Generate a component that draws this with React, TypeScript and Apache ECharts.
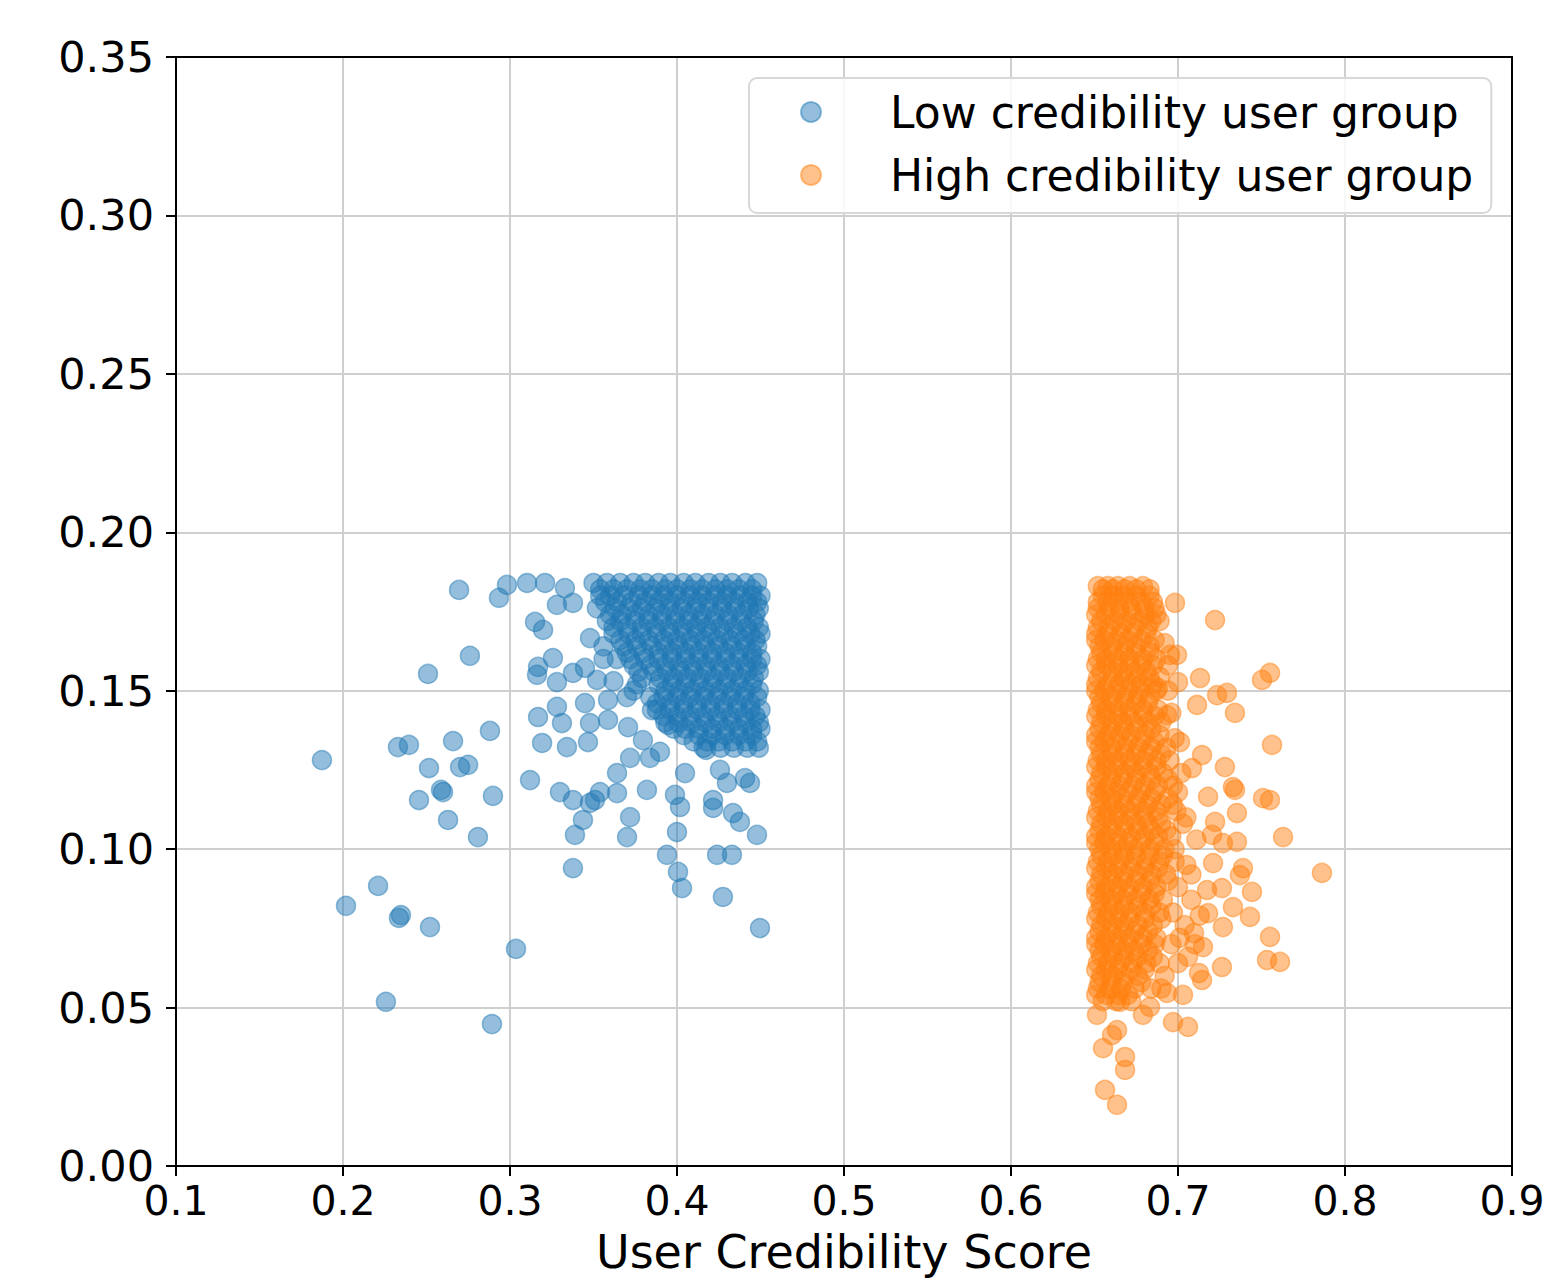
import React, { useEffect, useRef } from "react";
import * as echarts from "echarts";

const xTicks = [0.1, 0.2, 0.3, 0.4, 0.5, 0.6, 0.7, 0.8, 0.9];
const yTicks = [0, 0.05, 0.1, 0.15, 0.2, 0.25, 0.3, 0.35];
const seriesNames = ["Low credibility user group", "High credibility user group"];
const xAxisName = "User Credibility Score";

// Low credibility group: dense block, rows of [y, xs]
const blueCoreRows: Array<[number, number[]]> = [
  [0.184, [0.350, 0.358, 0.366, 0.374, 0.381, 0.389, 0.396, 0.404, 0.411, 0.419, 0.426, 0.433, 0.441, 0.448]],
  [0.182, [0.354, 0.362, 0.370, 0.378, 0.385, 0.393, 0.400, 0.408, 0.415, 0.423, 0.430, 0.437, 0.445]],
  [0.180, [0.354, 0.360, 0.368, 0.377, 0.385, 0.392, 0.400, 0.408, 0.415, 0.423, 0.430, 0.438, 0.445, 0.450]],
  [0.178, [0.357, 0.364, 0.373, 0.381, 0.389, 0.396, 0.404, 0.412, 0.419, 0.427, 0.434, 0.442, 0.448]],
  [0.176, [0.352, 0.363, 0.371, 0.379, 0.387, 0.395, 0.403, 0.411, 0.419, 0.427, 0.435, 0.443, 0.449]],
  [0.174, [0.360, 0.367, 0.375, 0.383, 0.391, 0.399, 0.407, 0.415, 0.423, 0.431, 0.439, 0.447]],
  [0.172, [0.358, 0.366, 0.375, 0.383, 0.391, 0.399, 0.407, 0.414, 0.422, 0.430, 0.438, 0.446]],
  [0.170, [0.362, 0.370, 0.379, 0.387, 0.395, 0.403, 0.411, 0.418, 0.426, 0.434, 0.442, 0.449]],
  [0.168, [0.362, 0.371, 0.379, 0.388, 0.396, 0.404, 0.412, 0.420, 0.428, 0.436, 0.444, 0.450]],
  [0.166, [0.366, 0.375, 0.383, 0.392, 0.400, 0.408, 0.416, 0.424, 0.432, 0.440, 0.447]],
  [0.164, [0.356, 0.368, 0.376, 0.385, 0.393, 0.401, 0.409, 0.417, 0.425, 0.433, 0.441, 0.448]],
  [0.162, [0.370, 0.380, 0.389, 0.397, 0.405, 0.413, 0.421, 0.429, 0.437, 0.445]],
  [0.160, [0.364, 0.372, 0.381, 0.389, 0.397, 0.405, 0.413, 0.421, 0.429, 0.437, 0.445, 0.450]],
  [0.158, [0.374, 0.384, 0.393, 0.401, 0.409, 0.417, 0.425, 0.433, 0.441, 0.448]],
  [0.156, [0.377, 0.386, 0.394, 0.402, 0.410, 0.418, 0.426, 0.434, 0.442, 0.449]],
  [0.154, [0.379, 0.390, 0.398, 0.406, 0.414, 0.422, 0.430, 0.438, 0.446]],
  [0.152, [0.376, 0.389, 0.397, 0.405, 0.413, 0.421, 0.429, 0.437, 0.445]],
  [0.150, [0.374, 0.393, 0.401, 0.409, 0.417, 0.425, 0.433, 0.441, 0.449]],
  [0.148, [0.384, 0.392, 0.400, 0.408, 0.416, 0.424, 0.432, 0.440, 0.448]],
  [0.146, [0.388, 0.396, 0.404, 0.412, 0.420, 0.428, 0.436, 0.444]],
  [0.144, [0.388, 0.396, 0.404, 0.412, 0.420, 0.428, 0.436, 0.444, 0.450]],
  [0.142, [0.392, 0.400, 0.408, 0.416, 0.424, 0.432, 0.440, 0.447]],
  [0.140, [0.393, 0.401, 0.409, 0.417, 0.425, 0.433, 0.441, 0.449]],
  [0.138, [0.398, 0.405, 0.413, 0.421, 0.429, 0.437, 0.445, 0.450]],
  [0.136, [0.404, 0.413, 0.421, 0.429, 0.437, 0.445]],
  [0.134, [0.410, 0.418, 0.425, 0.433, 0.441, 0.448]],
  [0.132, [0.416, 0.426, 0.434, 0.442, 0.449]],
];

// Low credibility group: scattered points [x, y]
const blueSpread: Array<[number, number]> = [
  [0.1874, 0.1281], [0.2695, 0.1818], [0.2934, 0.1793], [0.2982, 0.1834], [0.2760, 0.1610],
  [0.2509, 0.1553], [0.2329, 0.1322], [0.2395, 0.1329], [0.2659, 0.1341], [0.2880, 0.1373],
  [0.2515, 0.1256], [0.2701, 0.1259], [0.2749, 0.1266], [0.2587, 0.1187], [0.2599, 0.1180],
  [0.2455, 0.1155], [0.2898, 0.1168], [0.2629, 0.1092], [0.2808, 0.1038], [0.2210, 0.0884],
  [0.2018, 0.0821], [0.2347, 0.0792], [0.2335, 0.0783], [0.2521, 0.0754], [0.3036, 0.0685],
  [0.2257, 0.0518], [0.2892, 0.0448],
  [0.3102, 0.1840], [0.3210, 0.1840], [0.3329, 0.1824], [0.3281, 0.1771], [0.3377, 0.1777],
  [0.3150, 0.1717], [0.3198, 0.1692], [0.3479, 0.1666], [0.3257, 0.1603], [0.3168, 0.1575],
  [0.3162, 0.1550], [0.3281, 0.1527], [0.3377, 0.1556], [0.3449, 0.1572], [0.3521, 0.1534],
  [0.3449, 0.1461], [0.3587, 0.1471], [0.3168, 0.1417], [0.3281, 0.1449], [0.3311, 0.1398],
  [0.3479, 0.1398], [0.3587, 0.1408], [0.3707, 0.1385], [0.3192, 0.1335], [0.3341, 0.1322],
  [0.3467, 0.1338], [0.3719, 0.1288], [0.3796, 0.1344], [0.3838, 0.1288], [0.3641, 0.1240],
  [0.3120, 0.1218], [0.3299, 0.1180], [0.3377, 0.1155], [0.3539, 0.1180], [0.3641, 0.1177],
  [0.3820, 0.1187], [0.3479, 0.1146], [0.3437, 0.1092], [0.3389, 0.1045], [0.3509, 0.1155],
  [0.3719, 0.1101], [0.3701, 0.1038], [0.3988, 0.1171], [0.4018, 0.1133], [0.4000, 0.1054],
  [0.3940, 0.0982], [0.4006, 0.0928], [0.4030, 0.0877], [0.3377, 0.0940], [0.4216, 0.1155],
  [0.4216, 0.1130], [0.4335, 0.1114], [0.4377, 0.1086], [0.4479, 0.1045], [0.4240, 0.0982],
  [0.4329, 0.0982], [0.4275, 0.0849], [0.4497, 0.0751], [0.4299, 0.1209], [0.4437, 0.1209],
  [0.4048, 0.1240], [0.4257, 0.1250], [0.4407, 0.1224], [0.4174, 0.1313], [0.3898, 0.1307],
  [0.3946, 0.1392], [0.3850, 0.1439], [0.3560, 0.1600], [0.3620, 0.1530], [0.3700, 0.1480],
];

// High credibility group: dense block, rows of [y, xs]
const orangeCoreRows: Array<[number, number[]]> = [
  [0.183, [0.652, 0.658, 0.664, 0.671, 0.679]],
  [0.182, [0.655, 0.661, 0.668, 0.675, 0.683]],
  [0.180, [0.655, 0.661, 0.668, 0.675, 0.683]],
  [0.178, [0.652, 0.658, 0.664, 0.671, 0.678, 0.685]],
  [0.176, [0.652, 0.659, 0.665, 0.672, 0.680, 0.686]],
  [0.174, [0.651, 0.657, 0.665, 0.673, 0.680, 0.687]],
  [0.172, [0.654, 0.662, 0.669, 0.677, 0.684]],
  [0.170, [0.652, 0.659, 0.666, 0.674, 0.682]],
  [0.168, [0.651, 0.658, 0.666, 0.673, 0.681]],
  [0.166, [0.651, 0.656, 0.663, 0.670, 0.678, 0.686]],
  [0.164, [0.653, 0.660, 0.668, 0.675, 0.683]],
  [0.162, [0.654, 0.661, 0.668, 0.675, 0.683]],
  [0.160, [0.652, 0.657, 0.664, 0.671, 0.679, 0.687]],
  [0.158, [0.651, 0.657, 0.664, 0.671, 0.678, 0.685]],
  [0.156, [0.654, 0.661, 0.667, 0.674, 0.681]],
  [0.154, [0.652, 0.661, 0.668, 0.676, 0.683]],
  [0.152, [0.651, 0.658, 0.665, 0.672, 0.678, 0.685]],
  [0.150, [0.651, 0.656, 0.663, 0.670, 0.677, 0.687]],
  [0.148, [0.653, 0.660, 0.668, 0.676, 0.683]],
  [0.146, [0.654, 0.661, 0.668, 0.675, 0.682]],
  [0.144, [0.652, 0.657, 0.664, 0.671, 0.679, 0.688]],
  [0.142, [0.651, 0.657, 0.664, 0.671, 0.679, 0.686]],
  [0.140, [0.654, 0.661, 0.667, 0.674, 0.682]],
  [0.138, [0.653, 0.660, 0.668, 0.676, 0.684]],
  [0.136, [0.651, 0.658, 0.665, 0.672, 0.680, 0.689]],
  [0.134, [0.651, 0.656, 0.663, 0.670, 0.678, 0.686]],
  [0.132, [0.653, 0.660, 0.668, 0.676, 0.684, 0.693]],
  [0.130, [0.654, 0.661, 0.668, 0.675, 0.682, 0.690]],
  [0.128, [0.652, 0.657, 0.664, 0.671, 0.679, 0.687]],
  [0.126, [0.651, 0.657, 0.664, 0.672, 0.679, 0.687]],
  [0.124, [0.654, 0.661, 0.668, 0.675, 0.683, 0.691]],
  [0.122, [0.653, 0.660, 0.667, 0.675, 0.684, 0.694]],
  [0.120, [0.651, 0.658, 0.665, 0.673, 0.680, 0.688, 0.697]],
  [0.118, [0.651, 0.656, 0.663, 0.670, 0.678, 0.686]],
  [0.116, [0.653, 0.660, 0.667, 0.676, 0.684, 0.694]],
  [0.114, [0.654, 0.661, 0.668, 0.675, 0.682, 0.690]],
  [0.112, [0.652, 0.658, 0.664, 0.671, 0.679, 0.687, 0.699]],
  [0.110, [0.651, 0.657, 0.664, 0.672, 0.680, 0.688]],
  [0.108, [0.654, 0.661, 0.668, 0.675, 0.682, 0.690]],
  [0.106, [0.653, 0.660, 0.668, 0.676, 0.684, 0.693]],
  [0.104, [0.651, 0.657, 0.664, 0.672, 0.680, 0.688, 0.696]],
  [0.102, [0.651, 0.656, 0.663, 0.670, 0.678, 0.686]],
  [0.100, [0.653, 0.660, 0.667, 0.674, 0.683, 0.692]],
  [0.098, [0.654, 0.661, 0.668, 0.675, 0.683, 0.691]],
  [0.096, [0.652, 0.658, 0.665, 0.673, 0.681, 0.689, 0.698]],
  [0.094, [0.651, 0.657, 0.664, 0.672, 0.680, 0.688]],
  [0.092, [0.654, 0.661, 0.668, 0.676, 0.684, 0.693]],
  [0.090, [0.653, 0.660, 0.667, 0.675, 0.683, 0.694]],
  [0.088, [0.651, 0.657, 0.664, 0.671, 0.679, 0.687]],
  [0.086, [0.651, 0.656, 0.663, 0.670, 0.678, 0.686]],
  [0.084, [0.653, 0.660, 0.667, 0.675, 0.683, 0.691]],
  [0.082, [0.654, 0.661, 0.668, 0.676, 0.684]],
  [0.080, [0.652, 0.658, 0.665, 0.672, 0.680, 0.689]],
  [0.078, [0.651, 0.657, 0.664, 0.671, 0.680, 0.690]],
  [0.076, [0.654, 0.661, 0.668, 0.676, 0.685]],
  [0.074, [0.653, 0.660, 0.667, 0.674, 0.682]],
  [0.072, [0.651, 0.657, 0.664, 0.671, 0.679, 0.687]],
  [0.070, [0.651, 0.656, 0.663, 0.670, 0.678, 0.686]],
  [0.068, [0.653, 0.660, 0.667, 0.674, 0.682]],
  [0.066, [0.654, 0.661, 0.668, 0.676, 0.685]],
  [0.064, [0.652, 0.658, 0.665, 0.673, 0.681, 0.689]],
  [0.062, [0.651, 0.657, 0.664, 0.672, 0.680]],
  [0.060, [0.654, 0.661, 0.668, 0.676]],
  [0.058, [0.653, 0.660, 0.667, 0.678]],
  [0.056, [0.652, 0.659, 0.666, 0.674, 0.684]],
  [0.054, [0.651, 0.657, 0.664, 0.670]],
  [0.052, [0.655, 0.663, 0.672]],
];

// High credibility group: scattered points [x, y]
const orangeSpread: Array<[number, number]> = [
  [0.6982, 0.1777], [0.7222, 0.1723], [0.6994, 0.1613], [0.6952, 0.1613], [0.7132, 0.1540],
  [0.7000, 0.1527], [0.6892, 0.1543], [0.7234, 0.1486], [0.7293, 0.1493], [0.7114, 0.1455],
  [0.7341, 0.1430], [0.7503, 0.1534], [0.7551, 0.1556], [0.7563, 0.1329], [0.6934, 0.1423],
  [0.6960, 0.1430], [0.7012, 0.1338], [0.7144, 0.1297], [0.7084, 0.1256], [0.7281, 0.1259],
  [0.7329, 0.1196], [0.6880, 0.1508],
  [0.7341, 0.1187], [0.7509, 0.1161], [0.7551, 0.1155], [0.7353, 0.1114], [0.7180, 0.1165],
  [0.7222, 0.1086], [0.7204, 0.1045], [0.7353, 0.1023], [0.7269, 0.1019], [0.7629, 0.1038],
  [0.7210, 0.0956], [0.7389, 0.0940], [0.7371, 0.0918], [0.7862, 0.0925], [0.7443, 0.0865],
  [0.7263, 0.0877], [0.7174, 0.0871], [0.7329, 0.0817], [0.7431, 0.0786], [0.7269, 0.0754],
  [0.7180, 0.0798], [0.7150, 0.0691], [0.7551, 0.0723], [0.7533, 0.0650], [0.7611, 0.0644],
  [0.7263, 0.0628], [0.7060, 0.0660], [0.7126, 0.0609], [0.7096, 0.0735],
  [0.7144, 0.0587], [0.7030, 0.0540], [0.6970, 0.0454], [0.7060, 0.0439], [0.6790, 0.0477],
  [0.6515, 0.0477], [0.6635, 0.0429], [0.6605, 0.0413], [0.6551, 0.0372], [0.6683, 0.0344],
  [0.6683, 0.0303], [0.6563, 0.0240], [0.6635, 0.0193], [0.6653, 0.0518], [0.6832, 0.0502],
  [0.6934, 0.0546],
  [0.692, 0.165], [0.690, 0.140], [0.695, 0.128], [0.700, 0.118], [0.703, 0.108],
  [0.698, 0.100], [0.705, 0.095], [0.700, 0.088], [0.708, 0.084], [0.697, 0.080],
  [0.704, 0.076], [0.710, 0.070], [0.696, 0.070], [0.700, 0.064], [0.692, 0.060],
  [0.690, 0.056], [0.705, 0.110], [0.711, 0.103], [0.694, 0.150], [0.698, 0.135],
  [0.702, 0.124], [0.697, 0.114], [0.708, 0.092], [0.713, 0.079], [0.701, 0.072],
  [0.689, 0.172], [0.694, 0.158],
];

const blueColor = "rgba(31,119,180,0.6)";
const orangeColor = "rgba(255,127,14,0.6)";
const FONT = "DejaVu Sans";

function rowsToPoints(rows: Array<[number, number[]]>): Array<[number, number]> {
  const out: Array<[number, number]> = [];
  rows.forEach(([y, xs]) => xs.forEach((x) => out.push([x, y])));
  return out;
}

export default function App() {
  const ref = useRef<HTMLDivElement>(null);

  useEffect(() => {
    if (!ref.current) return;
    const chart = echarts.init(ref.current, undefined, { renderer: "svg" });
    const blueData = [...rowsToPoints(blueCoreRows), ...blueSpread];
    const orangeData = [...rowsToPoints(orangeCoreRows), ...orangeSpread];

    const xMin = xTicks[0];
    const xMax = xTicks[xTicks.length - 1];
    const yMin = yTicks[0];
    const yMax = yTicks[yTicks.length - 1];

    const spine = { show: true, onZero: false, lineStyle: { color: "#000", width: 2 } };

    chart.setOption({
      animation: false,
      backgroundColor: "#ffffff",
      textStyle: { fontFamily: FONT },
      grid: {
        left: 176,
        top: 57,
        width: 1336,
        height: 1109,
        containLabel: false,
        outerBoundsMode: "none",
      },
      legend: {
        show: true,
        orient: "vertical",
        left: 749,
        top: 78,
        icon: "circle",
        itemWidth: 20,
        itemHeight: 20,
        itemGap: 13,
        padding: [9, 18, 13, 51],
        backgroundColor: "rgba(255,255,255,0.85)",
        borderColor: "#d8d8d8",
        borderWidth: 2,
        borderRadius: 8,
        textStyle: {
          fontFamily: FONT,
          fontSize: 44,
          color: "#000",
          lineHeight: 50,
          padding: [0, 0, 0, 64],
        },
        data: seriesNames,
      },
      xAxis: [
        {
          type: "value",
          min: xMin,
          max: xMax,
          interval: 0.1,
          name: xAxisName,
          nameLocation: "middle",
          nameGap: 63,
          nameMoveOverlap: false,
          nameTextStyle: { fontFamily: FONT, fontSize: 46, lineHeight: 46, color: "#000" },
          axisLine: spine,
          axisTick: { show: true, inside: false, length: 10, lineStyle: { color: "#000", width: 2 } },
          axisLabel: {
            show: true,
            margin: 14,
            fontFamily: FONT,
            fontSize: 41,
            lineHeight: 41,
            color: "#000",
            formatter: (v: number) => v.toFixed(1),
          },
          splitLine: { show: true, lineStyle: { color: "#cfcfcf", width: 2 } },
        },
        {
          type: "value",
          position: "top",
          min: xMin,
          max: xMax,
          axisLine: spine,
          axisTick: { show: false },
          axisLabel: { show: false },
          splitLine: { show: false },
        },
      ],
      yAxis: [
        {
          type: "value",
          min: yMin,
          max: yMax,
          interval: 0.05,
          axisLine: spine,
          axisTick: { show: true, inside: false, length: 10, lineStyle: { color: "#000", width: 2 } },
          axisLabel: {
            show: true,
            margin: 22,
            fontFamily: FONT,
            fontSize: 43,
            color: "#000",
            formatter: (v: number) => v.toFixed(2),
          },
          splitLine: { show: true, lineStyle: { color: "#cfcfcf", width: 2 } },
        },
        {
          type: "value",
          position: "right",
          min: yMin,
          max: yMax,
          axisLine: spine,
          axisTick: { show: false },
          axisLabel: { show: false },
          splitLine: { show: false },
        },
      ],
      series: [
        {
          name: seriesNames[0],
          type: "scatter",
          xAxisIndex: 0,
          yAxisIndex: 0,
          symbol: "circle",
          symbolSize: 19,
          itemStyle: { color: blueColor, borderColor: blueColor, borderWidth: 1.5 },
          emphasis: { disabled: true },
          data: blueData,
        },
        {
          name: seriesNames[1],
          type: "scatter",
          xAxisIndex: 0,
          yAxisIndex: 0,
          symbol: "circle",
          symbolSize: 19,
          itemStyle: { color: orangeColor, borderColor: orangeColor, borderWidth: 1.5 },
          emphasis: { disabled: true },
          data: orangeData,
        },
      ],
    });

    return () => {
      chart.dispose();
    };
  }, []);

  return (
    <div
      style={{
        position: "absolute",
        left: 0,
        top: 0,
        width: 1545,
        height: 1279,
        overflow: "hidden",
        background: "#fff",
      }}
    >
      <div ref={ref} style={{ width: 1545, height: 1279 }} />
    </div>
  );
}
